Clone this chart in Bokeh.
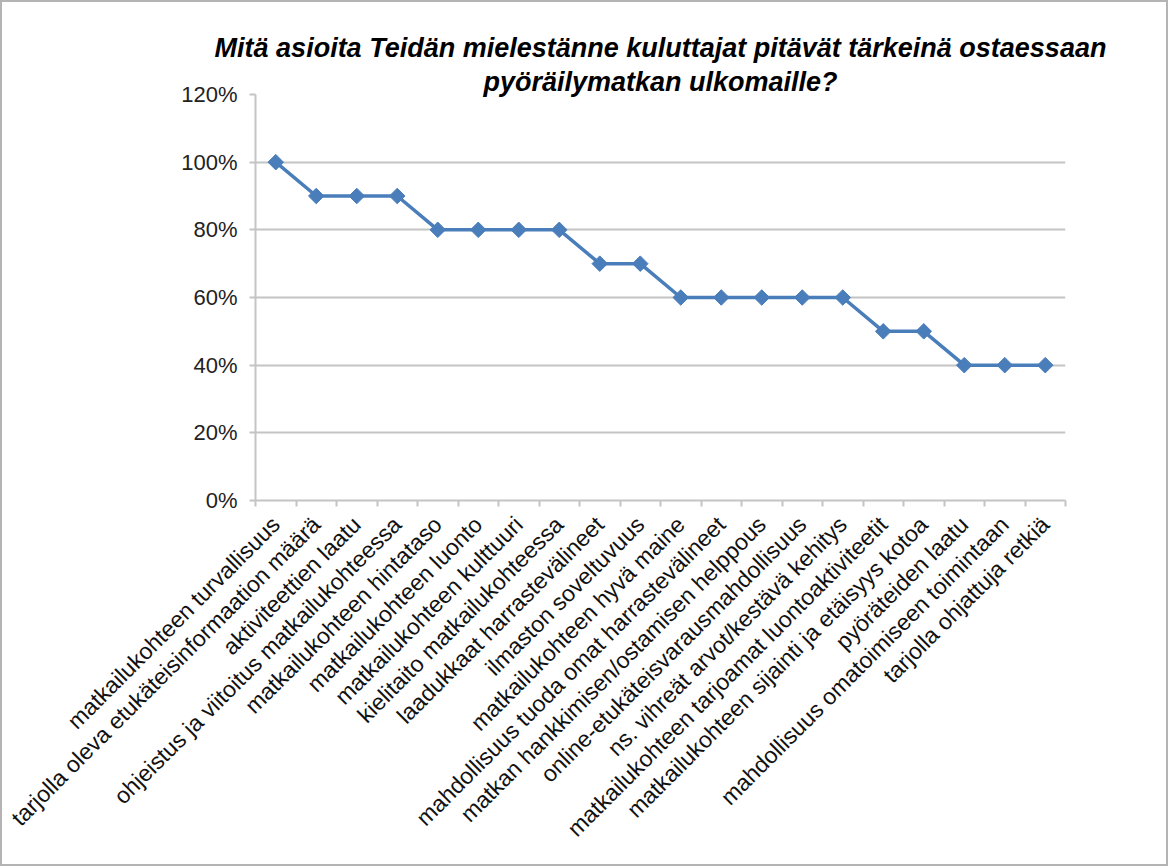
import math
from bokeh.plotting import figure
from bokeh.models import Range1d, FixedTicker, PrintfTickFormatter, Title, ColumnDataSource
from bokeh.embed import file_html
from bokeh.resources import INLINE

title_line1 = "Mitä asioita Teidän mielestänne kuluttajat pitävät tärkeinä ostaessaan"
title_line2 = "pyöräilymatkan ulkomaille?"

categories = [
    "matkailukohteen turvallisuus",
    "tarjolla oleva etukäteisinformaation määrä",
    "aktiviteettien laatu",
    "ohjeistus ja viitoitus matkailukohteessa",
    "matkailukohteen hintataso",
    "matkailukohteen luonto",
    "matkailukohteen kulttuuri",
    "kielitaito matkailukohteessa",
    "laadukkaat harrastevälineet",
    "ilmaston soveltuvuus",
    "matkailukohteen hyvä maine",
    "mahdollisuus tuoda omat harrastevälineet",
    "matkan hankkimisen/ostamisen helppous",
    "online-etukäteisvarausmahdollisuus",
    "ns. vihreät arvot/kestävä kehitys",
    "matkailukohteen tarjoamat luontoaktiviteetit",
    "matkailukohteen sijainti ja etäisyys kotoa",
    "pyöräteiden laatu",
    "mahdollisuus omatoimiseen toimintaan",
    "tarjolla ohjattuja retkiä",
]
values = [100, 90, 90, 90, 80, 80, 80, 80, 70, 70, 60, 60, 60, 60, 60, 50, 50, 40, 40, 40]
y_ticks = [0, 20, 40, 60, 80, 100, 120]

FONT = "Liberation Sans"
BLUE = "#4a7ebb"
GRID = "#c4c4c4"

n = len(categories)
xpos = [i + 0.5 for i in range(n)]
src = ColumnDataSource(dict(x=xpos, y=values, cat=categories))

p = figure(
    width=1164, height=862,
    output_backend="svg", toolbar_location=None,
    x_range=Range1d(0, n), y_range=Range1d(0, 120),
    frame_width=810, frame_height=406,
    min_border_left=253, min_border_top=92, min_border_right=101, min_border_bottom=364,
    styles={"border": "2px solid #b4b4b4"},
)
p.outline_line_color = None
p.background_fill_color = "white"
p.border_fill_color = "white"

# titles
t2 = Title(text=title_line2, align="center", text_font=FONT, text_font_size="27px",
           text_font_style="bold italic", text_color="black", standoff=-4, offset=10)
t1 = Title(text=title_line1, align="center", text_font=FONT, text_font_size="27px",
           text_font_style="bold italic", text_color="black", standoff=8, offset=10)
p.add_layout(t2, "above")
p.add_layout(t1, "above")

# y axis
p.yaxis.ticker = FixedTicker(ticks=y_ticks)
p.yaxis.formatter = PrintfTickFormatter(format="%d%%")
p.yaxis.major_label_text_font = FONT
p.yaxis.major_label_text_font_size = "22px"
p.yaxis.major_label_text_color = "#222222"
p.yaxis.axis_line_color = GRID
p.yaxis.axis_line_width = 2
p.yaxis.major_tick_line_color = GRID
p.yaxis.major_tick_line_width = 2
p.yaxis.major_tick_out = 6
p.yaxis.major_tick_in = 0
p.yaxis.minor_tick_line_color = None
p.yaxis.major_label_standoff = 12

# x axis
p.xaxis.ticker = FixedTicker(ticks=xpos, minor_ticks=list(range(n + 1)))
p.xaxis.major_label_overrides = {xv: c for xv, c in zip(xpos, categories)}
p.xaxis.major_label_orientation = math.pi / 4
p.xaxis.major_label_text_font = FONT
p.xaxis.major_label_text_font_size = "23px"
p.xaxis.major_label_text_color = "#111111"
p.xaxis.axis_line_color = GRID
p.xaxis.axis_line_width = 2
p.xaxis.major_tick_line_color = None
p.xaxis.minor_tick_line_color = GRID
p.xaxis.minor_tick_line_width = 2
p.xaxis.minor_tick_out = 6
p.xaxis.minor_tick_in = 0
p.xaxis.major_label_standoff = 14

p.xgrid.grid_line_color = None
p.ygrid.ticker = FixedTicker(ticks=y_ticks)
p.ygrid.grid_line_color = GRID
p.ygrid.grid_line_width = 2

p.line("x", "y", source=src, line_color=BLUE, line_width=3.5)
p.scatter("x", "y", source=src, marker="square", angle=math.pi / 4, size=11,
          fill_color=BLUE, line_color=BLUE)

open("out.html", "w").write(file_html(p, INLINE))
